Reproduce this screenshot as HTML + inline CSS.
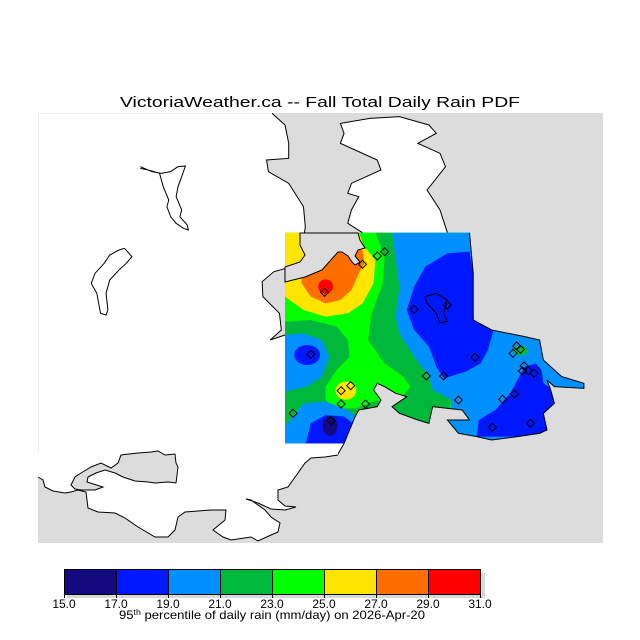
<!DOCTYPE html>
<html><head><meta charset="utf-8"><style>
html,body{margin:0;padding:0;background:#fff;}
svg{display:block;}
text{font-family:"Liberation Sans",sans-serif;fill:#000;}
</style></head><body>
<svg width="640" height="640" viewBox="0 0 640 640" xmlns="http://www.w3.org/2000/svg">
<defs>
<clipPath id="dc"><polygon transform="translate(30.4,100) scale(0.369,0.33333)" points="690,398 1190,398 1200,520 1200,660 1250,690 1340,710 1380,720 1390,780 1440,830 1500,850 1500,865 1420,860 1400,840 1410,870 1420,910 1390,940 1400,990 1380,1000 1320,1010 1250,1020 1210,1010 1160,1000 1130,960 1190,960 1170,930 1090,920 1080,970 1050,960 1000,940 980,920 1020,890 990,880 960,860 940,850 930,870 950,900 940,920 890,930 880,950 850,1030 690,1030"/></clipPath>
</defs>
<rect width="640" height="640" fill="#fff"/>
<text x="320" y="107" font-size="15" text-anchor="middle" textLength="400" lengthAdjust="spacingAndGlyphs">VictoriaWeather.ca -- Fall Total Daily Rain PDF</text>
<rect x="38" y="113" width="565" height="430" fill="#dcdcdc"/>
<g transform="translate(30.4,100) scale(0.369,0.33333)">
<polygon fill="#fff" points="22,40 655,40 690,75 700,130 700,175 640,180 645,215 700,250 740,320 745,380 735,460 725,495 660,515 628,545 630,590 675,640 680,690 650,720 690,705 690,1030 850,1030 832,1065 22,1065"/>
<polyline fill="none" stroke="#000" stroke-width="1" vector-effect="non-scaling-stroke" points="655,40 690,75 700,130 700,175 640,180 645,215 700,250 740,320 745,380 735,460 725,495 660,515 628,545 630,590 675,640 680,690 650,720 690,705"/>
<polyline fill="none" stroke="#000" stroke-width="1" vector-effect="non-scaling-stroke" points="850,1030 832,1065"/>
<polygon fill="#fff" points="840,70 920,55 1000,50 1080,75 1100,100 1050,130 1110,160 1125,200 1075,270 1110,330 1130,398 900,398 860,370 870,330 890,290 860,280 870,250 950,210 940,180 880,150 840,130 850,100"/>
<polyline fill="none" stroke="#000" stroke-width="1" vector-effect="non-scaling-stroke" points="1130,398 1110,330 1075,270 1125,200 1110,160 1050,130 1100,100 1080,75 1000,50 920,55 840,70 850,100 840,130 880,150 940,180 950,210 870,250 860,280 890,290 870,330 860,370 900,398"/>
<polyline fill="none" stroke="#000" stroke-width="1" vector-effect="non-scaling-stroke" points="298,200 330,215 355,220 380,215 400,200 420,198 410,230 400,260 395,290 410,330 405,350 425,375 428,390 415,385 395,370 380,350 370,320 375,300 360,260 350,220 320,210 298,205"/>
<polyline fill="none" stroke="#000" stroke-width="1" vector-effect="non-scaling-stroke" points="255,445 275,470 260,490 240,510 215,540 205,580 210,630 205,645 190,640 185,610 180,580 165,550 175,520 200,490 215,465 240,450 255,445"/>
</g>
<polygon fill="#fff" points="38,453 338,453 338,455 325,457 311,458 305,463 298,473 288,487 278,490 278,500 285,506 296,507 285,510 271,509 258,503 246,499 251,500 265,510 271,517 280,523 278,532 271,535 258,541 251,537 231,540 223,537 213,530 225,520 226,510 211,510 185,512 178,517 175,530 168,537 155,537 138,527 125,518 115,513 98,512 88,508 86,492 78,490 71,492 65,493 53,491 45,487 43,480 38,477"/>
<polyline fill="none" stroke="#000" stroke-width="1" points="338,455 325,457 311,458 305,463 298,473 288,487 278,490 278,500 285,506 296,507 285,510 271,509 258,503 246,499 251,500 265,510 271,517 280,523 278,532 271,535 258,541 251,537 231,540 223,537 213,530 225,520 226,510 211,510 185,512 178,517 175,530 168,537 155,537 138,527 125,518 115,513 98,512 88,508 86,492 78,490 71,492 65,493 53,491 45,487 43,480 38,477"/>
<polygon fill="#dcdcdc" stroke="#000" stroke-width="1" points="71,485 75,477 81,473 91,467 101,463 111,468 118,463 121,455 138,453 151,452 158,451 165,455 175,454 176,463 178,467 176,483 168,482 155,483 148,482 135,481 123,477 115,473 105,470 96,473 88,477 87,482 103,487 95,490 81,490 75,489"/>
<g clip-path="url(#dc)">
<g transform="translate(30.4,100) scale(0.369,0.33333)">
<rect x="600" y="350" width="1000" height="750" fill="#00ff00"/>
<polygon fill="#00b93a" points="935,398 980,398 990,480 1000,560 990,650 1000,700 1040,770 1080,830 1090,870 1140,900 1130,960 1100,1030 900,1030 1000,900 1030,860 1010,830 960,790 915,720 925,640 955,550 960,470"/>
<polygon fill="#0090ff" points="980,398 1600,398 1600,1100 1130,1100 1140,900 1090,870 1080,830 1040,770 1000,700 990,650 1000,560 990,480"/>
<polygon fill="#0018ff" points="1070,500 1130,460 1190,455 1200,520 1200,660 1255,690 1240,750 1220,790 1180,815 1120,835 1100,800 1080,740 1040,690 1020,630 1040,560"/>
<polygon fill="#0018ff" points="1210,1010 1215,960 1260,930 1300,880 1320,840 1340,800 1370,790 1385,810 1390,850 1420,870 1420,1010"/>
<ellipse cx="1328" cy="752" rx="20" ry="15" fill="#00b93a"/>
<polygon fill="#00b93a" points="690,665 760,660 830,680 860,720 865,770 830,810 800,860 800,900 830,925 880,925 940,900 960,920 900,1050 690,1050"/>
<polygon fill="#0090ff" points="690,705 740,700 790,720 810,770 790,830 750,860 690,875"/>
<ellipse cx="750" cy="765" rx="35" ry="30" fill="#0018ff"/>
<polygon fill="#0090ff" points="690,980 740,910 800,905 860,930 895,960 860,1050 690,1050"/>
<polygon fill="#0018ff" points="745,1035 760,970 800,945 850,950 880,975 850,1035"/>
<ellipse cx="812" cy="978" rx="20" ry="30" fill="#140a80"/>
<ellipse cx="855" cy="872" rx="28" ry="27" fill="#ffe500"/>
<polygon fill="#ffe500" points="690,398 890,398 905,440 935,480 930,550 900,610 860,640 800,650 740,630 690,590"/>
<polygon fill="#ff6e00" points="735,550 760,590 800,610 840,600 870,570 890,520 905,490 900,450 830,450 735,520"/>
<ellipse cx="800" cy="560" rx="20" ry="22" fill="#ff0000"/>
</g>
</g>
<g transform="translate(30.4,100) scale(0.369,0.33333)">
<polyline fill="none" stroke="#000" stroke-width="1" vector-effect="non-scaling-stroke" points="1190,398 1200,520 1200,660 1250,690 1340,710 1380,720 1390,780 1440,830 1500,850 1500,865 1420,860 1400,840 1410,870 1420,910 1390,940 1400,990 1380,1000 1320,1010 1250,1020 1210,1010 1160,1000 1130,960 1190,960 1170,930 1090,920 1080,970 1050,960 1000,940 980,920 1020,890 990,880 960,860 940,850 930,870 950,900 940,920 890,930 880,950 850,1030"/>
<polyline fill="none" stroke="#000" stroke-width="1" vector-effect="non-scaling-stroke" points="1070,590 1100,580 1130,600 1120,640 1130,665 1110,668 1100,640 1075,610 1070,590"/>
</g>
<polygon fill="#dcdcdc" stroke="#000" stroke-width="1" points="300,233 358,233 360,240 365,248 358,250 355,256 360,262 355,265 352,262 348,256 342,252 338,252 322,270 305,277 285,282 285,267 300,262 305,255 300,245"/>
<g fill="none" stroke="#000" stroke-width="1">
<polygon points="384.6,247.7 388.6,251.7 384.6,255.7 380.6,251.7"/>
<polygon points="377.3,252 381.3,256 377.3,260 373.3,256"/>
<polygon points="362.5,260.3 366.5,264.3 362.5,268.3 358.5,264.3"/>
<polygon points="324.5,288.3 328.5,292.3 324.5,296.3 320.5,292.3"/>
<polygon points="414.2,305.3 418.2,309.3 414.2,313.3 410.2,309.3"/>
<polygon points="447.4,301 451.4,305 447.4,309 443.4,305"/>
<polygon points="475,353.3 479,357.3 475,361.3 471,357.3"/>
<polygon points="443.7,372 447.7,376 443.7,380 439.7,376"/>
<polygon points="426.3,372 430.3,376 426.3,380 422.3,376"/>
<polygon points="310.8,350.3 314.8,354.3 310.8,358.3 306.8,354.3"/>
<polygon points="341.1,386.7 345.1,390.7 341.1,394.7 337.1,390.7"/>
<polygon points="350.7,381.7 354.7,385.7 350.7,389.7 346.7,385.7"/>
<polygon points="341.1,400 345.1,404 341.1,408 337.1,404"/>
<polygon points="365.5,400 369.5,404 365.5,408 361.5,404"/>
<polygon points="293.1,409.3 297.1,413.3 293.1,417.3 289.1,413.3"/>
<polygon points="331.1,416.7 335.1,420.7 331.1,424.7 327.1,420.7"/>
<polygon points="458.4,396 462.4,400 458.4,404 454.4,400"/>
<polygon points="502.7,395.3 506.7,399.3 502.7,403.3 498.7,399.3"/>
<polygon points="514.5,390 518.5,394 514.5,398 510.5,394"/>
<polygon points="492.4,423.3 496.4,427.3 492.4,431.3 488.4,427.3"/>
<polygon points="530.4,419.3 534.4,423.3 530.4,427.3 526.4,423.3"/>
<polygon points="516.7,342 520.7,346 516.7,350 512.7,346"/>
<polygon points="520.4,345.3 524.4,349.3 520.4,353.3 516.4,349.3"/>
<polygon points="513,349.3 517,353.3 513,357.3 509,353.3"/>
<polygon points="524.1,362 528.1,366 524.1,370 520.1,366"/>
<polygon points="528.5,366.7 532.5,370.7 528.5,374.7 524.5,370.7"/>
<polygon points="534.1,369.3 538.1,373.3 534.1,377.3 530.1,373.3"/>
<polygon points="522.3,367 526.3,371 522.3,375 518.3,371"/>
</g>
<!-- colorbar -->
<rect x="67" y="573" width="418" height="25" fill="#d8d8d8"/>
<rect x="64" y="570" width="52" height="24" fill="#140a80"/>
<rect x="116" y="570" width="52" height="24" fill="#0018ff"/>
<rect x="168" y="570" width="52" height="24" fill="#0090ff"/>
<rect x="220" y="570" width="52" height="24" fill="#00b93a"/>
<rect x="272" y="570" width="52" height="24" fill="#00ff00"/>
<rect x="324" y="570" width="52" height="24" fill="#ffe500"/>
<rect x="376" y="570" width="52" height="24" fill="#ff6e00"/>
<rect x="428" y="570" width="52" height="24" fill="#ff0000"/>
<g stroke="#000" stroke-width="1" fill="none">
<rect x="64.5" y="569.5" width="416" height="25"/>
<path d="M116.5 570V594M168.5 570V594M220.5 570V594M272.5 570V594M324.5 570V594M376.5 570V594M428.5 570V594"/>
<path d="M64.5 594V598M116.5 594V598M168.5 594V598M220.5 594V598M272.5 594V598M324.5 594V598M376.5 594V598M428.5 594V598M480.5 594V598"/>
</g>
<g font-size="12" text-anchor="middle">
<text x="64" y="608">15.0</text><text x="116" y="608">17.0</text><text x="168" y="608">19.0</text>
<text x="220" y="608">21.0</text><text x="272" y="608">23.0</text><text x="324" y="608">25.0</text>
<text x="376" y="608">27.0</text><text x="428" y="608">29.0</text><text x="480" y="608">31.0</text>
</g>
<text x="119" y="619" font-size="12" textLength="306" lengthAdjust="spacingAndGlyphs">95<tspan font-size="8" dy="-4">th</tspan><tspan dy="4"> percentile of daily rain (mm/day) on 2026-Apr-20</tspan></text>
</svg>
</body></html>
